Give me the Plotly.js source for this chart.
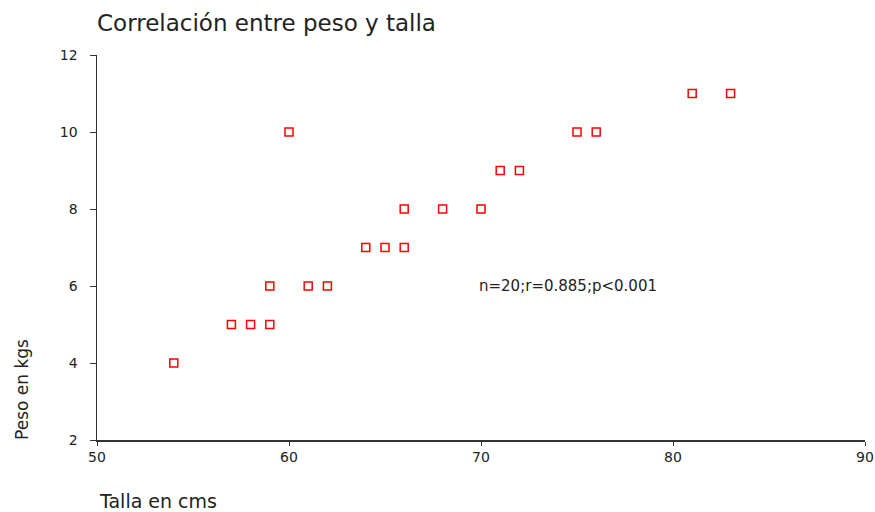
<!DOCTYPE html>
<html>
<head>
<meta charset="utf-8">
<script src="https://cdn.plot.ly/plotly-3.0.1.min.js"></script>
<style>html,body{margin:0;padding:0;background:#fff;}#chart{width:875px;height:512px;}</style>
</head>
<body>
<div id="chart"></div>
<script>
const talla = [54, 57, 58, 59, 59, 60, 61, 62, 64, 65, 66, 66, 68, 70, 71, 72, 75, 76, 81, 83];
const peso  = [4, 5, 5, 5, 6, 10, 6, 6, 7, 7, 7, 8, 8, 8, 9, 9, 10, 10, 11, 11];
const xTicks = [50, 60, 70, 80, 90];
const yTicks = [2, 4, 6, 8, 10, 12];
const chartTitle = "Correlación entre peso y talla";
const xTitle = "Talla en cms";
const yTitle = "Peso en kgs";
const statsText = "n=20;r=0.885;p<0.001";

const font = "DejaVu Sans, Verdana, sans-serif";
const txt = "#222";

const trace = {
  x: talla, y: peso, type: "scatter", mode: "markers",
  marker: {symbol: "square-open", size: 8, color: "#ff0000", line: {color: "#ff0000", width: 1.5}},
  hoverinfo: "x+y", cliponaxis: false
};

const layout = {
  width: 875, height: 512,
  margin: {l: 97, r: 10, t: 55, b: 72},
  paper_bgcolor: "#fff", plot_bgcolor: "#fff",
  showlegend: false,
  font: {family: font, color: txt, size: 13},
  title: {text: chartTitle, xref: "paper", x: 0, xanchor: "left",
          yref: "container", y: 1 - 23/512, yanchor: "middle",
          font: {family: font, size: 23, color: txt}},
  xaxis: {range: [50, 90], tickvals: xTicks, ticks: "outside", ticklen: 4, tickwidth: 1,
          tickcolor: "#333", showline: true, linecolor: "#333", linewidth: 1.5,
          showgrid: false, zeroline: false, ticklabeloverflow: "allow",
          ticklabelstandoff: 0,
          tickfont: {family: font, size: 14, color: txt}},
  yaxis: {range: [2, 12], tickvals: yTicks, ticks: "outside", ticklen: 6, tickwidth: 1,
          tickcolor: "#333", showline: true, linecolor: "#333", linewidth: 1.5,
          showgrid: false, zeroline: false, ticklabelstandoff: 9,
          tickfont: {family: font, size: 14, color: txt}},
  annotations: [
    {text: statsText, xref: "x", yref: "y", x: 69.8, y: 6, xanchor: "left", yanchor: "middle",
     showarrow: false, font: {family: font, size: 15, color: txt}},
    {text: yTitle, xref: "paper", yref: "y", x: 0, xshift: -75, y: 3.3, textangle: -90,
     xanchor: "center", yanchor: "middle", showarrow: false,
     font: {family: font, size: 17, color: txt}},
    {text: xTitle, xref: "paper", yref: "paper", x: 0, y: 0, yshift: -61,
     xanchor: "left", yanchor: "middle", showarrow: false,
     font: {family: font, size: 19, color: txt}}
  ]
};

Plotly.newPlot("chart", [trace], layout, {displayModeBar: false, staticPlot: true});
</script>
</body>
</html>
